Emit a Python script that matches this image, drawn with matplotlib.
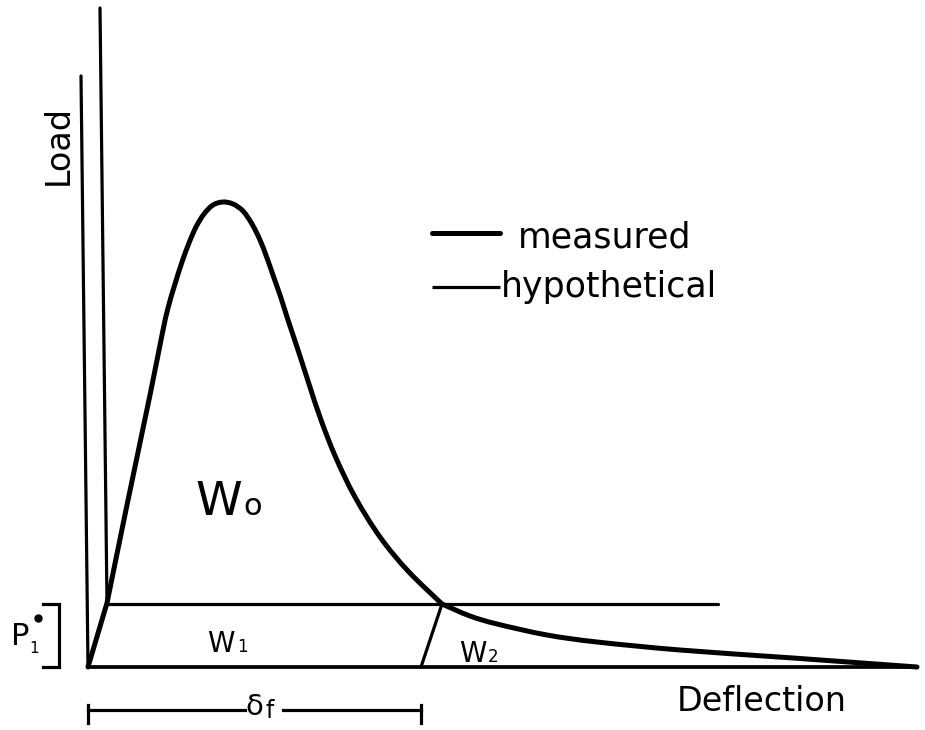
import matplotlib
matplotlib.use("Agg")
import matplotlib.pyplot as plt
import numpy as np
from matplotlib.path import Path
from matplotlib.patches import PathPatch

# Measured load-deflection curve (arbitrary units)
measured_deflection = [0.00, 0.19, 0.39, 0.62, 0.74, 0.80, 0.87, 0.94, 1.01, 1.08, 1.16, 1.25, 1.35,
                       1.45, 1.55, 1.64, 1.72, 1.79, 1.86, 1.93, 2.00, 2.10, 2.21, 2.33, 2.48,
                       2.67, 2.92, 3.20, 3.54,
                       3.82, 4.09, 4.59, 5.09, 5.92, 7.05, 8.29]
measured_load = [0.00, 0.64, 1.62, 2.72, 3.32, 3.59, 3.83, 4.05, 4.24, 4.40, 4.53, 4.62, 4.65,
                 4.63, 4.56, 4.43, 4.27, 4.09, 3.89, 3.69, 3.47, 3.17, 2.83, 2.47, 2.09,
                 1.70, 1.30, 0.96, 0.63,
                 0.51, 0.43, 0.32, 0.25, 0.17, 0.09, 0.00]

# Hypothetical construction lines
p1_star = 0.63            # load level P1*
kink_deflection = 0.19    # deflection where the measured curve reaches P1*
cross_deflection = 3.54   # measured curve crosses P1* on the descending branch
delta_f = 3.33            # deflection after unloading from the crossing point
plateau_end = 6.30        # end of the hypothetical constant-load line
elastic_top = (-0.07, 5.91)
vertical_top = (0.12, 6.59)
baseline_end = 8.24

THICK = 3.6
THIN = 2.3
INK = "black"


def smooth_path(xs, ys, corners=()):
    """Catmull-Rom style Bezier path through the points; sharp at the given indices."""
    pts = np.column_stack([xs, ys]).astype(float)
    n = len(pts)
    verts = [pts[0]]
    codes = [Path.MOVETO]
    for i in range(n - 1):
        p0 = pts[i - 1] if i > 0 and i not in corners else pts[i]
        p1, p2 = pts[i], pts[i + 1]
        p3 = pts[i + 2] if i + 2 < n and (i + 1) not in corners else pts[i + 1]
        c1 = p1 + (p2 - p0) / 6.0
        c2 = p2 - (p3 - p1) / 6.0
        verts += [c1, c2, p2]
        codes += [Path.CURVE4] * 3
    return Path(verts, codes)


fig = plt.figure(figsize=(9.25, 7.3), dpi=100)
ax = fig.add_axes([0, 0, 1, 1])
ax.set_xlim(-0.88, 8.37)
ax.set_ylim(-0.63, 6.67)
ax.axis("off")

# hypothetical lines
ax.plot([0, elastic_top[0]], [0, elastic_top[1]], color=INK, lw=THIN, solid_capstyle="round")
ax.plot([kink_deflection, vertical_top[0]], [p1_star, vertical_top[1]], color=INK, lw=THIN,
        solid_capstyle="round")
ax.plot([kink_deflection, plateau_end], [p1_star, p1_star], color=INK, lw=THIN, solid_capstyle="round")
ax.plot([cross_deflection, delta_f], [p1_star, 0], color=INK, lw=THIN, solid_capstyle="round")
ax.plot([0, baseline_end], [0, 0], color=INK, lw=2.7, solid_capstyle="round")

# measured curve (sharp at the start of the curved part and at the P1* crossing)
corner_idx = (measured_deflection.index(kink_deflection),
              measured_deflection.index(cross_deflection))
ax.add_patch(PathPatch(smooth_path(measured_deflection, measured_load, corners=corner_idx),
                       facecolor="none", edgecolor=INK, lw=THICK,
                       joinstyle="round", capstyle="round"))

# legend
ax.plot([3.44, 4.12], [4.34, 4.34], color=INK, lw=THICK, solid_capstyle="round")
ax.plot([3.44, 4.12], [3.80, 3.80], color=INK, lw=THIN, solid_capstyle="butt")
ax.text(4.30, 4.20, "measured", fontsize=25, va="baseline", ha="left")
ax.text(4.13, 3.70, "hypothetical", fontsize=25, va="baseline", ha="left")

# axis labels
ax.text(-0.30, 5.22, "Load", fontsize=24, rotation=90, ha="center", va="center")
ax.text(6.74, -0.44, "Deflection", fontsize=24, ha="center", va="baseline")

# energy areas
ax.text(1.07, 1.52, "W", fontsize=34, ha="left", va="baseline")
ax.text(1.55, 1.52, "o", fontsize=22, ha="left", va="baseline")
ax.text(1.19, 0.15, "W", fontsize=20, ha="left", va="baseline")
ax.text(1.49, 0.15, "1", fontsize=12, ha="left", va="baseline")
ax.text(3.71, 0.05, "W", fontsize=20, ha="left", va="baseline")
ax.text(4.00, 0.05, "2", fontsize=12, ha="left", va="baseline")

# P1* bracket
bx0, bx1 = -0.45, -0.29
ax.plot([bx0, bx1, bx1, bx0], [p1_star, p1_star, 0, 0], color=INK, lw=THIN,
        solid_joinstyle="miter")
ax.text(-0.77, 0.22, "P", fontsize=22, ha="left", va="baseline")
ax.text(-0.59, 0.14, "1", fontsize=11, ha="left", va="baseline")
ax.plot([-0.50], [0.49], "o", color=INK, ms=5)

# delta_f dimension
dim_y = -0.43
gap0, gap1 = 1.57, 1.95
ax.plot([0, gap0], [dim_y, dim_y], color=INK, lw=THIN)
ax.plot([gap1, delta_f], [dim_y, dim_y], color=INK, lw=THIN)
for xe in (0, delta_f):
    ax.plot([xe, xe], [dim_y + 0.05, dim_y - 0.13], color=INK, lw=THIN)
ax.text(1.57, -0.48, "δ", fontsize=21, ha="left", va="baseline")
ax.text(1.77, -0.51, "f", fontsize=17, ha="left", va="baseline")

fig.savefig("out.png", dpi=100, facecolor="white")
